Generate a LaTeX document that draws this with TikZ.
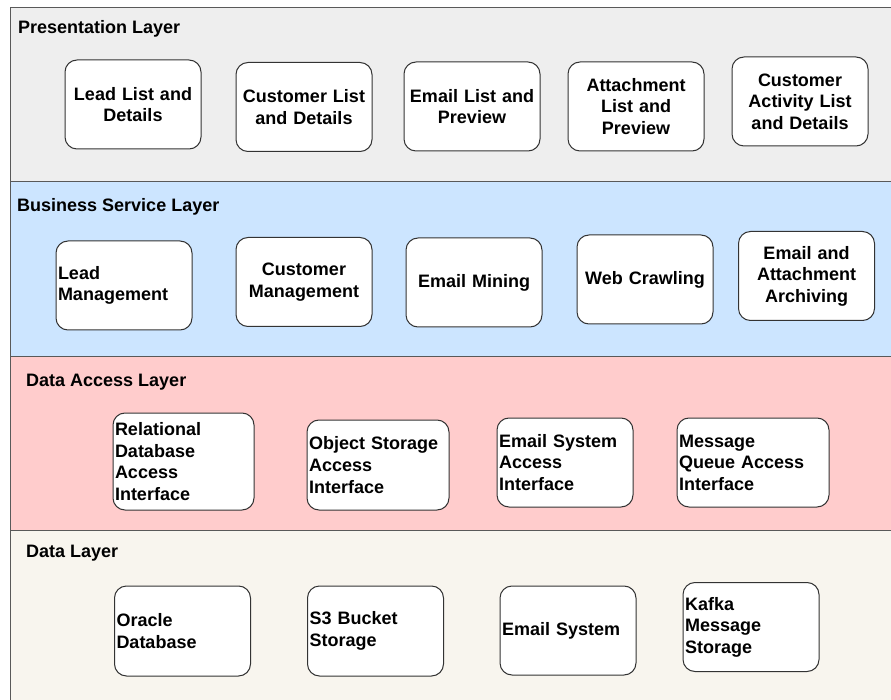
\documentclass[tikz,border=0pt]{standalone}
\usepackage{fontspec}
\setmainfont{Liberation Sans}

\definecolor{presfill}{HTML}{EEEEEE}
\definecolor{busfill}{HTML}{CCE5FF}
\definecolor{accfill}{HTML}{FFCCCC}
\definecolor{datafill}{HTML}{F8F5EE}

\begin{document}
\begin{tikzpicture}[x=1pt, y=-1pt,
    layer/.style ={draw=black!65, line width=1pt},
    layertitle/.style ={anchor=west, inner sep=0pt, font=\bfseries\fontsize{18}{21.6}\selectfont},
    module/.style ={rounded corners=12pt, draw=black!80, line width=1pt, fill=white,
        inner xsep=2pt, inner ysep=0pt, text width=132pt, minimum height=89pt,
        font=\bfseries\fontsize{18}{21.6}\selectfont},
    centred/.style ={module, align=center},
    leftflush/.style ={module, align=left}]
   \useasboundingbox (0,0) rectangle (891,700);
   \clip (0,0) rectangle (891,700);

   % layers
   \draw[layer, fill=presfill] (10,8) rectangle (900,182);
   \draw[layer, fill=busfill] (10,182) rectangle (900,356);
   \draw[layer, fill=accfill] (10,356) rectangle (900,530);
   \draw[layer, fill=datafill] (10,530) rectangle (900,710);

   \node[layertitle] (PT) at (18,29)  {Presentation Layer};
   \node[layertitle] (BT) at (17,207) {Business Service Layer};
   \node[layertitle] (AT) at (26,382) {Data Access Layer};
   \node[layertitle] (DT) at (26,553) {Data Layer};

   % presentation layer
   \node[centred] (LL) at (133,104.5) {Lead List and\\Details};
   \node[centred] (CL) at (304,107)   {Customer List\\and Details};
   \node[centred] (EL) at (472,106.5) {Email List and\\Preview};
   \node[centred] (AL) at (636,106.5) {Attachment\\List and\\Preview};
   \node[centred] (CA) at (800,101.5) {Customer\\Activity List\\and Details};

   % business service layer
   \node[leftflush] (LM) at (124,285.5) {Lead\\Management};
   \node[centred] (CM) at (304,282)     {Customer\\Management};
   \node[centred] (EM) at (474,282.5)   {Email Mining};
   \node[centred] (WC) at (645,279.5)   {Web Crawling};
   \node[centred] (EA) at (806.5,276)   {Email and\\Attachment\\Archiving};

   % data access layer
   \node[leftflush, text width=137pt, minimum height=97pt] (RA) at (183.5,461.5) {Relational\\Database\\Access\\Interface};
   \node[leftflush, text width=138pt, minimum height=90pt] (OA) at (378,465) {Object Storage\\Access\\Interface};
   \node[leftflush] (SA) at (565,462.5) {Email System\\Access\\Interface};
   \node[leftflush, text width=148pt] (QA) at (753,462.5) {Message\\Queue Access\\Interface};

   % data layer
   \node[leftflush, minimum height=90pt] (OD) at (182.5,631) {Oracle\\Database};
   \node[leftflush, minimum height=90pt] (SB) at (375.5,631) {S3 Bucket\\Storage};
   \node[leftflush] (ES) at (568,630.5) {Email System};
   \node[leftflush] (KS) at (751,627)   {Kafka\\Message\\Storage};
 \end{tikzpicture}
\end{document}
